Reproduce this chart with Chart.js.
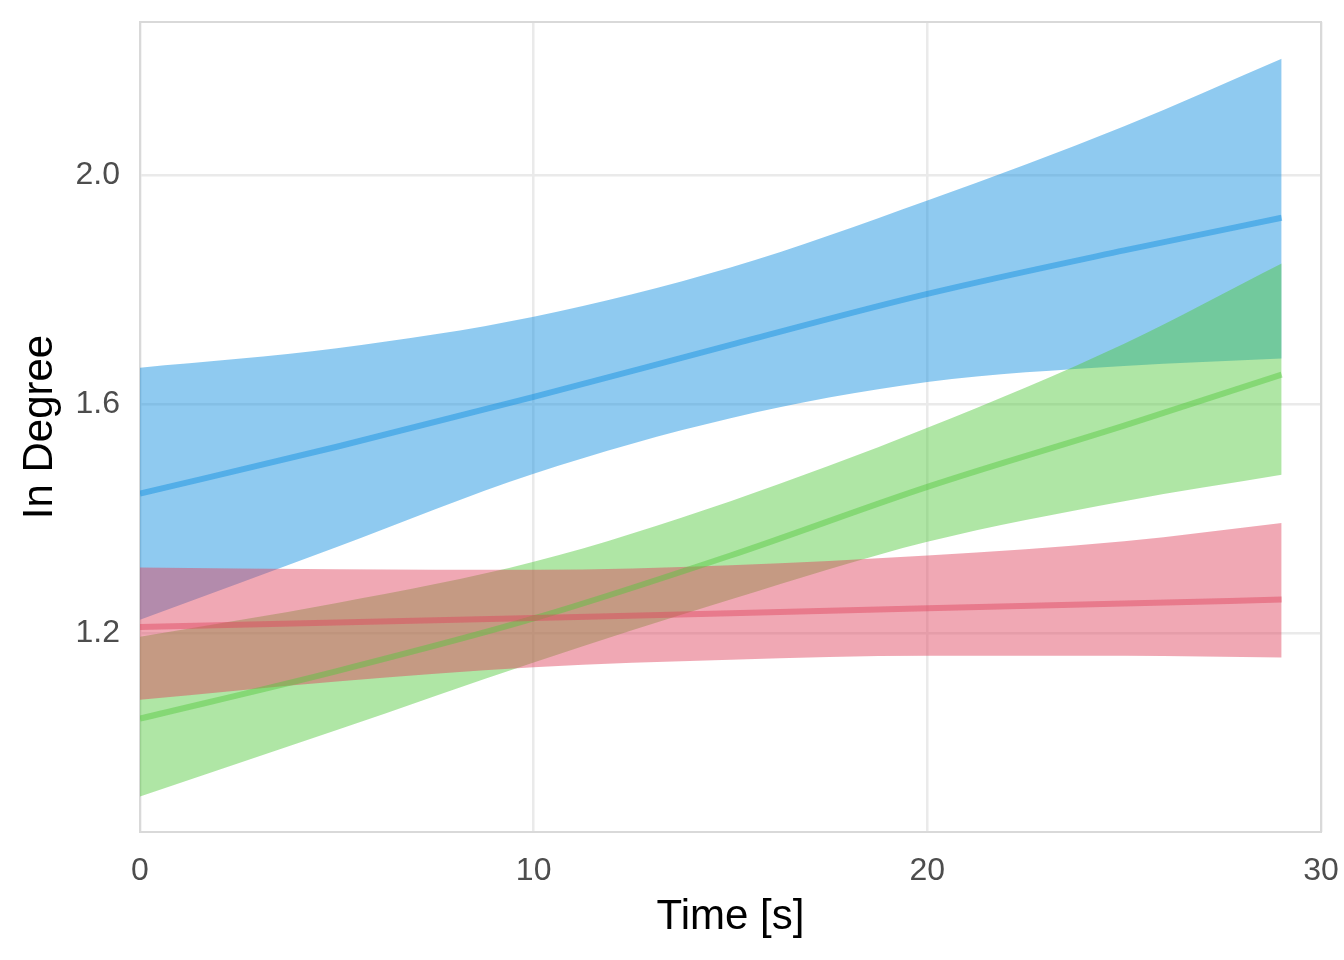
<!DOCTYPE html>
<html>
<head>
<meta charset="utf-8">
<script src="https://cdn.jsdelivr.net/npm/chart.js@4.4.1/dist/chart.umd.min.js"></script>
<style>
  body { margin: 0; background: #fff; }
  #chart { display: block; }
</style>
</head>
<body>
<canvas id="chart" width="1344" height="960"></canvas>
<script>
// values
let timePts = [0, 5, 10, 15, 20, 25, 29];

let blueFit  = [1.443, 1.525, 1.612, 1.703, 1.792, 1.868, 1.925];
let blueLow  = [1.223, 1.350, 1.478, 1.575, 1.638, 1.666, 1.679];
let blueHigh = [1.663, 1.697, 1.752, 1.838, 1.955, 2.085, 2.203];

let greenFit  = [1.050, 1.133, 1.225, 1.335, 1.455, 1.562, 1.651];
let greenLow  = [0.914, 1.030, 1.148, 1.258, 1.359, 1.430, 1.476];
let greenHigh = [1.193, 1.252, 1.324, 1.430, 1.558, 1.705, 1.845];

let redFit  = [1.210, 1.218, 1.226, 1.234, 1.243, 1.251, 1.258];
let redLow  = [1.083, 1.115, 1.140, 1.153, 1.160, 1.160, 1.157];
let redHigh = [1.314, 1.311, 1.310, 1.318, 1.335, 1.360, 1.392];

let xTicks = [0, 10, 20, 30];
let yTicks = [1.2, 1.6, 2.0];

function pts(arr) {
    return arr.map((v, i) => ({ x: timePts[i], y: v }));
}

function lineSet(arr, color) {
    return {
        data: pts(arr),
        borderColor: color,
        borderWidth: 6,
        pointRadius: 0,
        fill: false,
        cubicInterpolationMode: 'monotone'
    };
}

function bandSet(arr, color, fillTo) {
    return {
        data: pts(arr),
        borderWidth: 0,
        borderColor: 'rgba(0,0,0,0)',
        backgroundColor: color,
        pointRadius: 0,
        fill: fillTo,
        cubicInterpolationMode: 'monotone'
    };
}

let panelBorder = {
    id: 'panelBorder',
    beforeDatasetsDraw(chart) {
        let a = chart.chartArea;
        let c = chart.ctx;
        c.save();
        c.strokeStyle = '#D9D9D9';
        c.lineWidth = 2;
        c.strokeRect(a.left, a.top, a.right - a.left, a.bottom - a.top);
        c.restore();
    }
};

let ctx = document.getElementById('chart').getContext('2d');

let chart = new Chart(ctx, {
    type: 'line',
    data: {
        datasets: [
            lineSet(redFit, 'rgba(222, 66, 92, 0.45)'),
            lineSet(greenFit, 'rgba(81, 200, 59, 0.45)'),
            lineSet(blueFit, 'rgba(11, 140, 222, 0.45)'),
            bandSet(redHigh, 'rgba(222, 66, 92, 0.46)', '+1'),
            bandSet(redLow, 'rgba(0,0,0,0)', false),
            bandSet(greenHigh, 'rgba(81, 200, 59, 0.46)', '+1'),
            bandSet(greenLow, 'rgba(0,0,0,0)', false),
            bandSet(blueHigh, 'rgba(11, 140, 222, 0.46)', '+1'),
            bandSet(blueLow, 'rgba(0,0,0,0)', false)
        ]
    },
    options: {
        responsive: false,
        animation: false,
        devicePixelRatio: 1,
        layout: { padding: { left: 0, right: 23, top: 22, bottom: 0 } },
        plugins: {
            legend: { display: false },
            tooltip: { enabled: false }
        },
        scales: {
            x: {
                type: 'linear',
                min: 0,
                max: 30,
                afterBuildTicks: s => { s.ticks = xTicks.map(v => ({ value: v })); },
                afterFit: s => {
                    s.height = 128;
                    s.paddingLeft = 0;
                    s.paddingRight = 0;
                },
                grid: { color: '#EAEAEA', lineWidth: 2.5, drawTicks: false },
                border: { display: false },
                ticks: {
                    padding: 20,
                    color: '#4D4D4D',
                    font: { family: 'Liberation Sans, Arial, sans-serif', size: 32 },
                    callback: v => String(v)
                },
                title: {
                    display: true,
                    text: 'Time [s]',
                    color: '#000',
                    font: { family: 'Liberation Sans, Arial, sans-serif', size: 42 },
                    padding: { top: 4, bottom: 17 }
                }
            },
            y: {
                type: 'linear',
                min: 0.852,
                max: 2.267,
                afterBuildTicks: s => { s.ticks = yTicks.map(v => ({ value: v })); },
                afterFit: s => {
                    s.width = 140;
                    s.paddingTop = 0;
                    s.paddingBottom = 0;
                },
                grid: { color: '#EAEAEA', lineWidth: 2.5, drawTicks: false },
                border: { display: false },
                ticks: {
                    padding: 20,
                    color: '#4D4D4D',
                    font: { family: 'Liberation Sans, Arial, sans-serif', size: 32 },
                    callback: v => v.toFixed(1)
                },
                title: {
                    display: true,
                    text: 'In Degree',
                    color: '#000',
                    font: { family: 'Liberation Sans, Arial, sans-serif', size: 42 },
                    padding: { top: 15, bottom: 0 }
                }
            }
        }
    },
    plugins: [panelBorder]
});
</script>
</body>
</html>
